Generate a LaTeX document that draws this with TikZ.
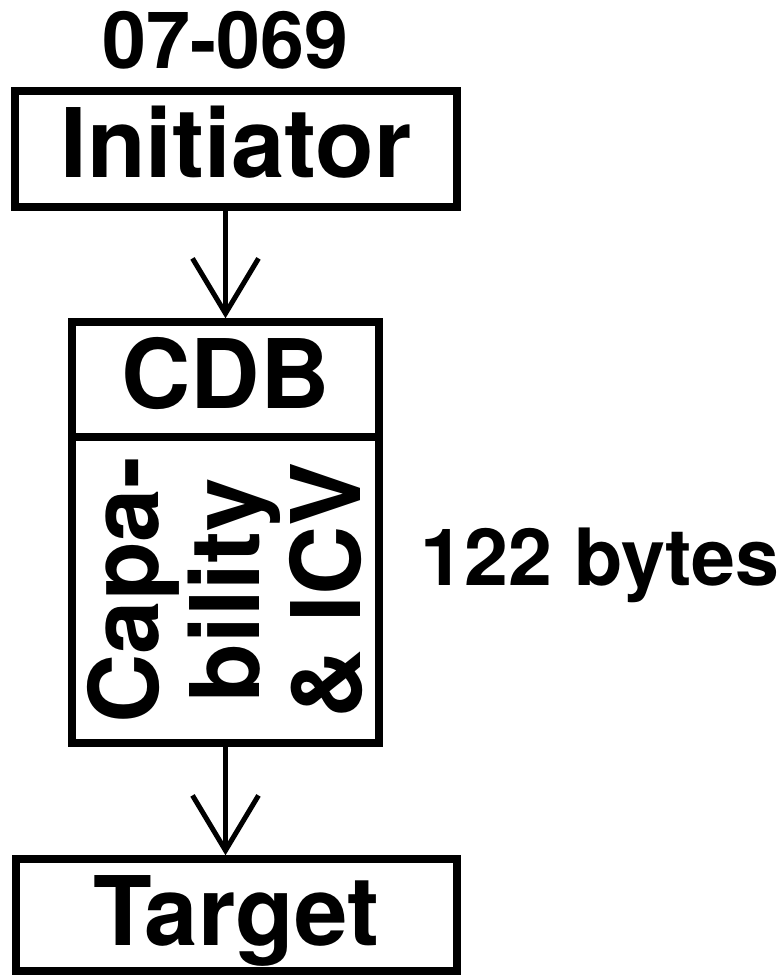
\documentclass[tikz,border=0pt]{standalone}
\usepackage{fontspec}
\setmainfont{TeX Gyre Heros}
\usetikzlibrary{arrows.meta}
\begin{document}
\begin{tikzpicture}[x=1pt,y=1pt,
  box/.style={draw, line width=7.5pt, rectangle, inner sep=0pt},
  big/.style={font=\fontsize{96}{101}\selectfont\bfseries},
  mid/.style={font=\fontsize{79}{90}\selectfont\bfseries, inner sep=0pt},
  arr/.style={line width=5pt, -{Straight Barb[length=55pt,width=66pt,sharp]}}]
\useasboundingbox (0,0) rectangle (784,-975);
\node[mid, anchor=base] (num) at (225.5,-68) {07-069};
\node[box, big, minimum width=442pt, minimum height=116pt, text height=70pt, text depth=14pt] (init) at (236,-149) {Initiator};
\node[box, big, minimum width=307pt, minimum height=115pt, text height=70pt, text depth=13pt] (cdb) at (225.5,-379.5) {CDB};
\node[box, big, minimum width=307pt, minimum height=306pt] (cap) at (225.5,-590)
  {\rotatebox{90}{\vbox{\baselineskip=101pt\halign{\hfil#\hfil\cr Capa-\cr bility\cr \& ICV\cr}}}};
\node[box, big, minimum width=441pt, minimum height=112pt, text height=72pt, text depth=12pt] (target) at (236.5,-915) {Target};
\node[mid, anchor=base] (bytes) at (600,-585) {122 bytes};
\draw[arr] (init.south -| cdb.north) -- (cdb.north);
\draw[arr] (cap.south) -- (target.north -| cap.south);
\end{tikzpicture}
\end{document}
